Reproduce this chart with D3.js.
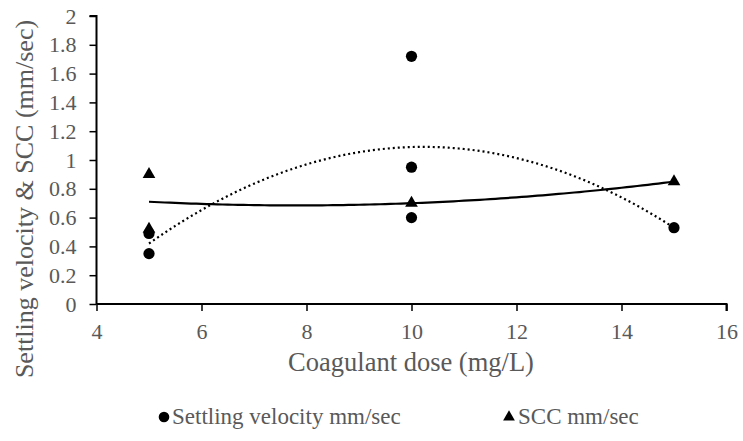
<!DOCTYPE html>
<html><head><meta charset="utf-8">
<script src="https://cdn.jsdelivr.net/npm/d3@7"></script>
<style>body{margin:0;background:#fff}svg{display:block}</style>
</head><body><svg id="c" width="743" height="441"></svg>
<script>
const svX = [5, 5, 10, 10, 10, 15];
const svY = [0.35, 0.49, 1.72, 0.95, 0.60, 0.53];
const sccX = [5, 5, 10, 15];
const sccY = [0.90, 0.52, 0.70, 0.85];
const xTicks = [4, 6, 8, 10, 12, 14, 16];
const yTicks = [0, 0.2, 0.4, 0.6, 0.8, 1, 1.2, 1.4, 1.6, 1.8, 2];
const seriesNames = ["Settling velocity mm/sec", "SCC mm/sec"];

const FONT = "Liberation Serif";
const GRAY = "#595959";
const svg = d3.select("#c");
const x = d3.scaleLinear().domain([4, 16]).range([96.5, 726.5]);
const y = d3.scaleLinear().domain([0, 2]).range([304, 16]);

// least squares quadratic fit (Excel polynomial trendline, order 2)
function polyfit2(xs, ys) {
  let S = [0,0,0,0,0], T = [0,0,0];
  xs.forEach((xi, i) => {
    for (let k = 0; k < 5; k++) S[k] += Math.pow(xi, k);
    for (let k = 0; k < 3; k++) T[k] += ys[i] * Math.pow(xi, k);
  });
  const A = [[S[0],S[1],S[2],T[0]],[S[1],S[2],S[3],T[1]],[S[2],S[3],S[4],T[2]]];
  for (let i = 0; i < 3; i++) {
    let p = i; for (let r = i+1; r < 3; r++) if (Math.abs(A[r][i]) > Math.abs(A[p][i])) p = r;
    [A[i], A[p]] = [A[p], A[i]];
    for (let r = 0; r < 3; r++) if (r !== i) {
      const f = A[r][i] / A[i][i];
      for (let c = i; c < 4; c++) A[r][c] -= f * A[i][c];
    }
  }
  return [A[0][3]/A[0][0], A[1][3]/A[1][1], A[2][3]/A[2][2]];
}
function trend(xs, ys) {
  const c = polyfit2(xs, ys);
  const lo = d3.min(xs), hi = d3.max(xs);
  return d3.range(0, 101).map(i => { const t = lo + (hi - lo) * i / 100; return [t, c[0] + c[1]*t + c[2]*t*t]; });
}
const line = d3.line().x(d => x(d[0])).y(d => y(d[1]));

// axes
const xAxis = svg.append("g").attr("transform", "translate(0,304)")
  .call(d3.axisBottom(x).tickValues(xTicks).tickSize(7).tickPadding(12).tickFormat(d3.format("d")));
const yAxis = svg.append("g").attr("transform", "translate(96.5,0)")
  .call(d3.axisLeft(y).tickValues(yTicks).tickSize(7).tickPadding(13).tickFormat(d => d3.format("~g")(d)));
[xAxis, yAxis].forEach(g => {
  g.attr("font-family", FONT).attr("font-size", 22);
  g.select(".domain").attr("stroke", "#000").attr("stroke-width", 2);
  g.selectAll(".tick line").attr("stroke", "#000").attr("stroke-width", 1.5);
  g.selectAll(".tick text").attr("fill", GRAY);
});
xAxis.select(".domain").attr("d", "M96.5,0H726.5V7");
yAxis.select(".domain").attr("d", "M-7,16H0V304");

// trendlines
svg.append("path").attr("d", line(trend(sccX, sccY))).attr("fill", "none")
  .attr("stroke", "#000").attr("stroke-width", 2.2);
svg.append("path").attr("d", line(trend(svX, svY))).attr("fill", "none")
  .attr("stroke", "#000").attr("stroke-width", 2.2).attr("stroke-dasharray", "2,3");

// points
const tri = d3.symbol().type(d3.symbolTriangle).size(70);
svg.selectAll(".scc").data(sccX.map((d, i) => [d, sccY[i]])).join("path")
  .attr("d", tri).attr("transform", d => `translate(${x(d[0])},${y(d[1])})`).attr("fill", "#000");
svg.selectAll(".sv").data(svX.map((d, i) => [d, svY[i]])).join("circle")
  .attr("cx", d => x(d[0])).attr("cy", d => y(d[1])).attr("r", 5.6).attr("fill", "#000");

// axis titles
svg.append("text").attr("x", 411).attr("y", 371).attr("text-anchor", "middle")
  .attr("font-family", FONT).attr("font-size", 26.5).attr("fill", GRAY).text("Coagulant dose (mg/L)");
svg.append("text").attr("transform", "translate(33,199) rotate(-90)").attr("text-anchor", "middle")
  .attr("font-family", FONT).attr("font-size", 26).attr("fill", GRAY).text("Settling velocity & SCC (mm/sec)");

// legend
const lg = svg.append("g").attr("font-family", FONT).attr("font-size", 23).attr("fill", GRAY);
lg.append("circle").attr("cx", 164).attr("cy", 417).attr("r", 5.3).attr("fill", "#000");
lg.append("text").attr("x", 172).attr("y", 424).text(seriesNames[0]);
lg.append("path").attr("d", d3.symbol().type(d3.symbolTriangle).size(60)).attr("transform", "translate(509,417)").attr("fill", "#000");
lg.append("text").attr("x", 518).attr("y", 424).text(seriesNames[1]);
</script></body></html>
